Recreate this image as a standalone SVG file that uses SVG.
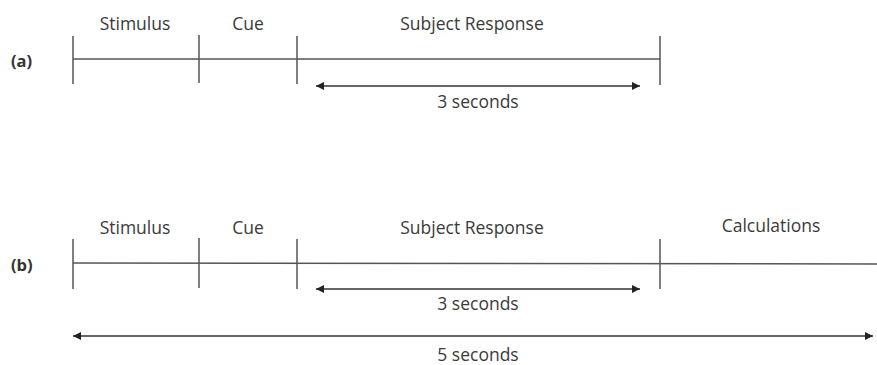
<svg xmlns="http://www.w3.org/2000/svg" width="877" height="365" viewBox="0 0 877 365">
<defs>
<marker id="ah" viewBox="0 0 10 10" refX="10" refY="5" markerWidth="12" markerHeight="8" markerUnits="userSpaceOnUse" orient="auto-start-reverse">
<path d="M0,0 L10,5 L0,10 z" fill="#222"/>
</marker>
<style>
.t{font-family:"Open Sans","Liberation Sans",sans-serif;font-size:17.5px;fill:#3a3a3a;text-anchor:middle}
.p{font-family:"Open Sans","Liberation Sans",sans-serif;font-size:16.5px;font-weight:bold;fill:#333}
.ln{stroke:#555;stroke-width:1.5;fill:none}
.ar{stroke:#333;stroke-width:1.4;fill:none;marker-start:url(#ah);marker-end:url(#ah)}
</style>
</defs>
<rect width="877" height="365" fill="#fff"/>
<g id="timeline-a">
<text class="p" x="11" y="67">(a)</text>
<text class="t" x="135" y="30">Stimulus</text>
<text class="t" x="248" y="30">Cue</text>
<text class="t" x="472" y="30">Subject Response</text>
<line class="ln" x1="73" y1="59" x2="660" y2="59"/>
<line class="ln" x1="73" y1="36" x2="73" y2="84"/>
<line class="ln" x1="199" y1="35" x2="199" y2="83"/>
<line class="ln" x1="297" y1="36" x2="297" y2="84"/>
<line class="ln" x1="660" y1="36" x2="660" y2="85"/>
</g>
<g id="timeline-b">
<text class="p" x="11" y="271">(b)</text>
<text class="t" x="135" y="234">Stimulus</text>
<text class="t" x="248" y="234">Cue</text>
<text class="t" x="472" y="234">Subject Response</text>
<text class="t" x="771" y="232">Calculations</text>
<line class="ln" x1="73" y1="263" x2="877" y2="264"/>
<line class="ln" x1="73" y1="239" x2="73" y2="289"/>
<line class="ln" x1="199" y1="238" x2="199" y2="288"/>
<line class="ln" x1="297" y1="239" x2="297" y2="289"/>
<line class="ln" x1="660" y1="239" x2="660" y2="289"/>
</g>
<g id="connectors">
<line class="ar" x1="316" y1="86" x2="640" y2="86"/>
<line class="ar" x1="316" y1="289" x2="640" y2="289"/>
<line class="ar" x1="73" y1="336" x2="873" y2="336"/>
</g>
<g id="labels">
<text class="t" x="478" y="108">3 seconds</text>
<text class="t" x="478" y="310">3 seconds</text>
<text class="t" x="478" y="361">5 seconds</text>
</g>
</svg>
